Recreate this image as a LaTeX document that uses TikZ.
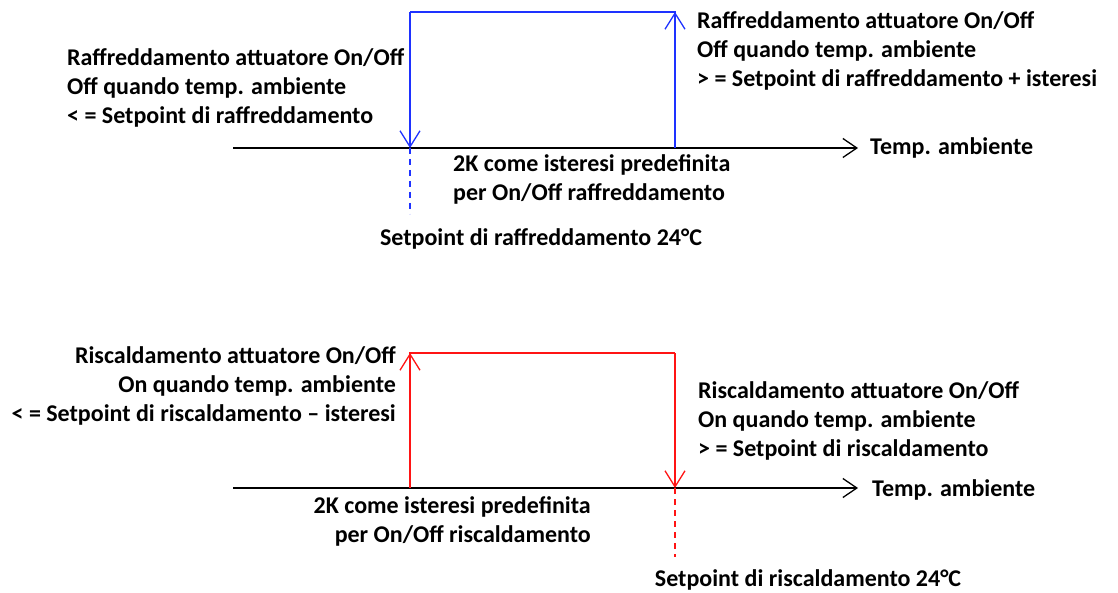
\documentclass[tikz,border=0pt]{standalone}
\usepackage{fontspec}
\setmainfont{Carlito}
\usetikzlibrary{arrows.meta}
\begin{document}
\begin{tikzpicture}[x=1pt,y=-1pt,
  lbl/.style={inner sep=0pt,font=\fontsize{24}{29}\selectfont\bfseries},
  axis/.style={line width=1.4pt,black,-{Straight Barb[length=14pt,width=19pt,line width=1.3pt]}},
  cool/.style={line width=1.4pt,draw={rgb,255:red,30;green,50;blue,255}},
  heat/.style={line width=1.4pt,draw={rgb,255:red,255;green,20;blue,20}},
  tip/.style={-{Straight Barb[length=16pt,width=20pt,line width=1.3pt]}},
  dsh/.style={dash pattern=on 6pt off 5pt}
]
\useasboundingbox (0,0) rectangle (1118,593);
% ---------- cooling ----------
\coordinate (a0) at (233,148);
\coordinate (a1) at (858,148);
\coordinate (cL) at (410,148);
\coordinate (cR) at (675,148);
\coordinate (cLt) at (410,12);
\coordinate (cRt) at (675,12);
\coordinate (cD) at (410,214);
\draw[axis] (a0) -- (a1);
\draw[cool] (cR) -- (cRt) -- (cLt);
\draw[cool,tip] (cRt) ++(0,0.1) -- (cRt);
\draw[cool,tip] (cLt) -- (cL);
\draw[cool,dsh] (cL) -- (cD);
\node[lbl,anchor=west,align=left] (tl) at (67,88) {Raffreddamento attuatore On/Off\\Off quando temp. ambiente\\< = Setpoint di raffreddamento};
\node[lbl,anchor=west,align=left] (tr) at (697,51) {Raffreddamento attuatore On/Off\\Off quando temp. ambiente\\> = Setpoint di raffreddamento + isteresi};
\node[lbl,anchor=west,align=left] (tm) at (453,179) {2K come isteresi predefinita\\per On/Off raffreddamento};
\node[lbl,anchor=west] (ta) at (870,148) {Temp. ambiente};
\node[lbl] (ts) at (541,239) {Setpoint di raffreddamento 24°C};
% ---------- heating ----------
\coordinate (b0) at (233,488);
\coordinate (b1) at (858,488);
\coordinate (hL) at (410,488);
\coordinate (hR) at (675,488);
\coordinate (hLt) at (410,353);
\coordinate (hRt) at (675,353);
\coordinate (hD) at (675,557);
\draw[axis] (b0) -- (b1);
\draw[heat] (hL) -- (hLt) -- (hRt);
\draw[heat,tip] (hLt) ++(0,0.1) -- (hLt);
\draw[heat,tip] (hRt) -- (hR);
\draw[heat,dsh] (hR) -- (hD);
\node[lbl,anchor=east,align=right] (bl) at (396,386) {Riscaldamento attuatore On/Off\\On quando temp. ambiente\\< = Setpoint di riscaldamento – isteresi};
\node[lbl,anchor=west,align=left] (br) at (698,421) {Riscaldamento attuatore On/Off\\On quando temp. ambiente\\> = Setpoint di riscaldamento};
\node[lbl,anchor=east,align=right] (bm) at (591,521) {2K come isteresi predefinita\\per On/Off riscaldamento};
\node[lbl,anchor=west] (ba) at (872,490) {Temp. ambiente};
\node[lbl] (bs) at (808,580) {Setpoint di riscaldamento 24°C};
\end{tikzpicture}
\end{document}
